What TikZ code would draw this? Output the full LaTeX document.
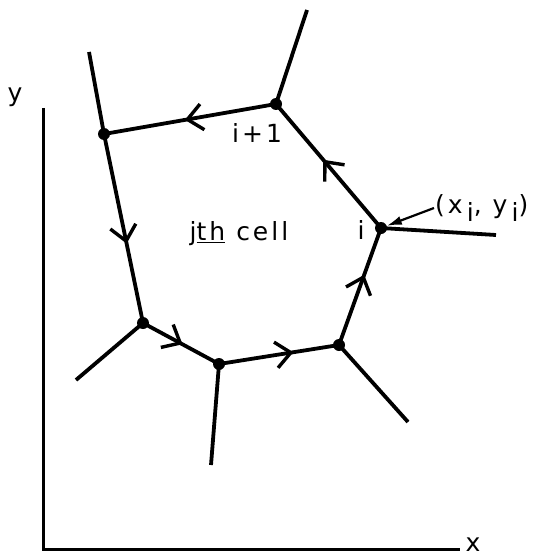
\documentclass[tikz,border=0pt]{standalone}
\usepackage{fontspec}
\setmainfont{DejaVu Sans}[LetterSpace=12]
\usetikzlibrary{arrows.meta,decorations.markings}

\begin{document}
\begin{tikzpicture}[x=1pt, y=-1pt, every node/.style={font=\fontsize{25}{29}\selectfont, inner sep=1pt},
  vtx/.style={circle, fill, inner sep=0pt, minimum size=12pt},
  wall/.style={line width=3.8pt},
  flow/.style={wall, postaction={decorate}, decoration={markings,
    mark=at position #1 with {\arrow{Straight Barb[length=15pt, width=26pt, line width=3.4pt]}}}},
  flow/.default=0.55]
  \useasboundingbox (0,0) rectangle (534,559);
  % cell vertices
  \node[vtx] (v1) at (381,228) {};
  \node[vtx] (v2) at (276,104) {};
  \node[vtx] (v3) at (104,134) {};
  \node[vtx] (v4) at (143,323) {};
  \node[vtx] (v5) at (219,364) {};
  \node[vtx] (v6) at (339,345) {};
  % outer ends of the walls
  \coordinate (s1) at (496,235);
  \coordinate (s2) at (307,10);
  \coordinate (s3) at (89,52);
  \coordinate (s4) at (76,380);
  \coordinate (s5) at (211,465);
  \coordinate (s6) at (408,422);
  \foreach \k in {1,...,6} \draw[wall] (v\k.center) -- (s\k);
  % cell boundary, walked round
  \draw[flow] (v1.center) -- (v2.center);
  \draw[flow=0.53] (v2.center) -- (v3.center);
  \draw[flow=0.58] (v3.center) -- (v4.center);
  \draw[flow=0.52] (v4.center) -- (v5.center);
  \draw[flow=0.62] (v5.center) -- (v6.center);
  \draw[flow=0.6] (v6.center) -- (v1.center);
  % labels
  \node (lbi) at (361,230) {i};
  \node (lbip) at (257,133) {i+1};
  \node (cell) at (239,234) {j\underline{th} cell};
  \node[anchor=west] (xy) at (434,208) {(x\,\raisebox{-0.6ex}{i}, y\,\raisebox{-0.6ex}{i})};
  \draw[line width=2.2pt, -{Latex[length=15pt, width=9pt]}] (xy.west) -- (v1);
  % axes
  \coordinate (org) at (43,549);
  \coordinate (ytop) at (43,108);
  \coordinate (xend) at (460,549);
  \draw[line width=3pt] (ytop) -- (org) -- (xend);
  \node (ylab) at (15,97) {y};
  \node (xlab) at (473,545) {x};
\end{tikzpicture}
\end{document}
